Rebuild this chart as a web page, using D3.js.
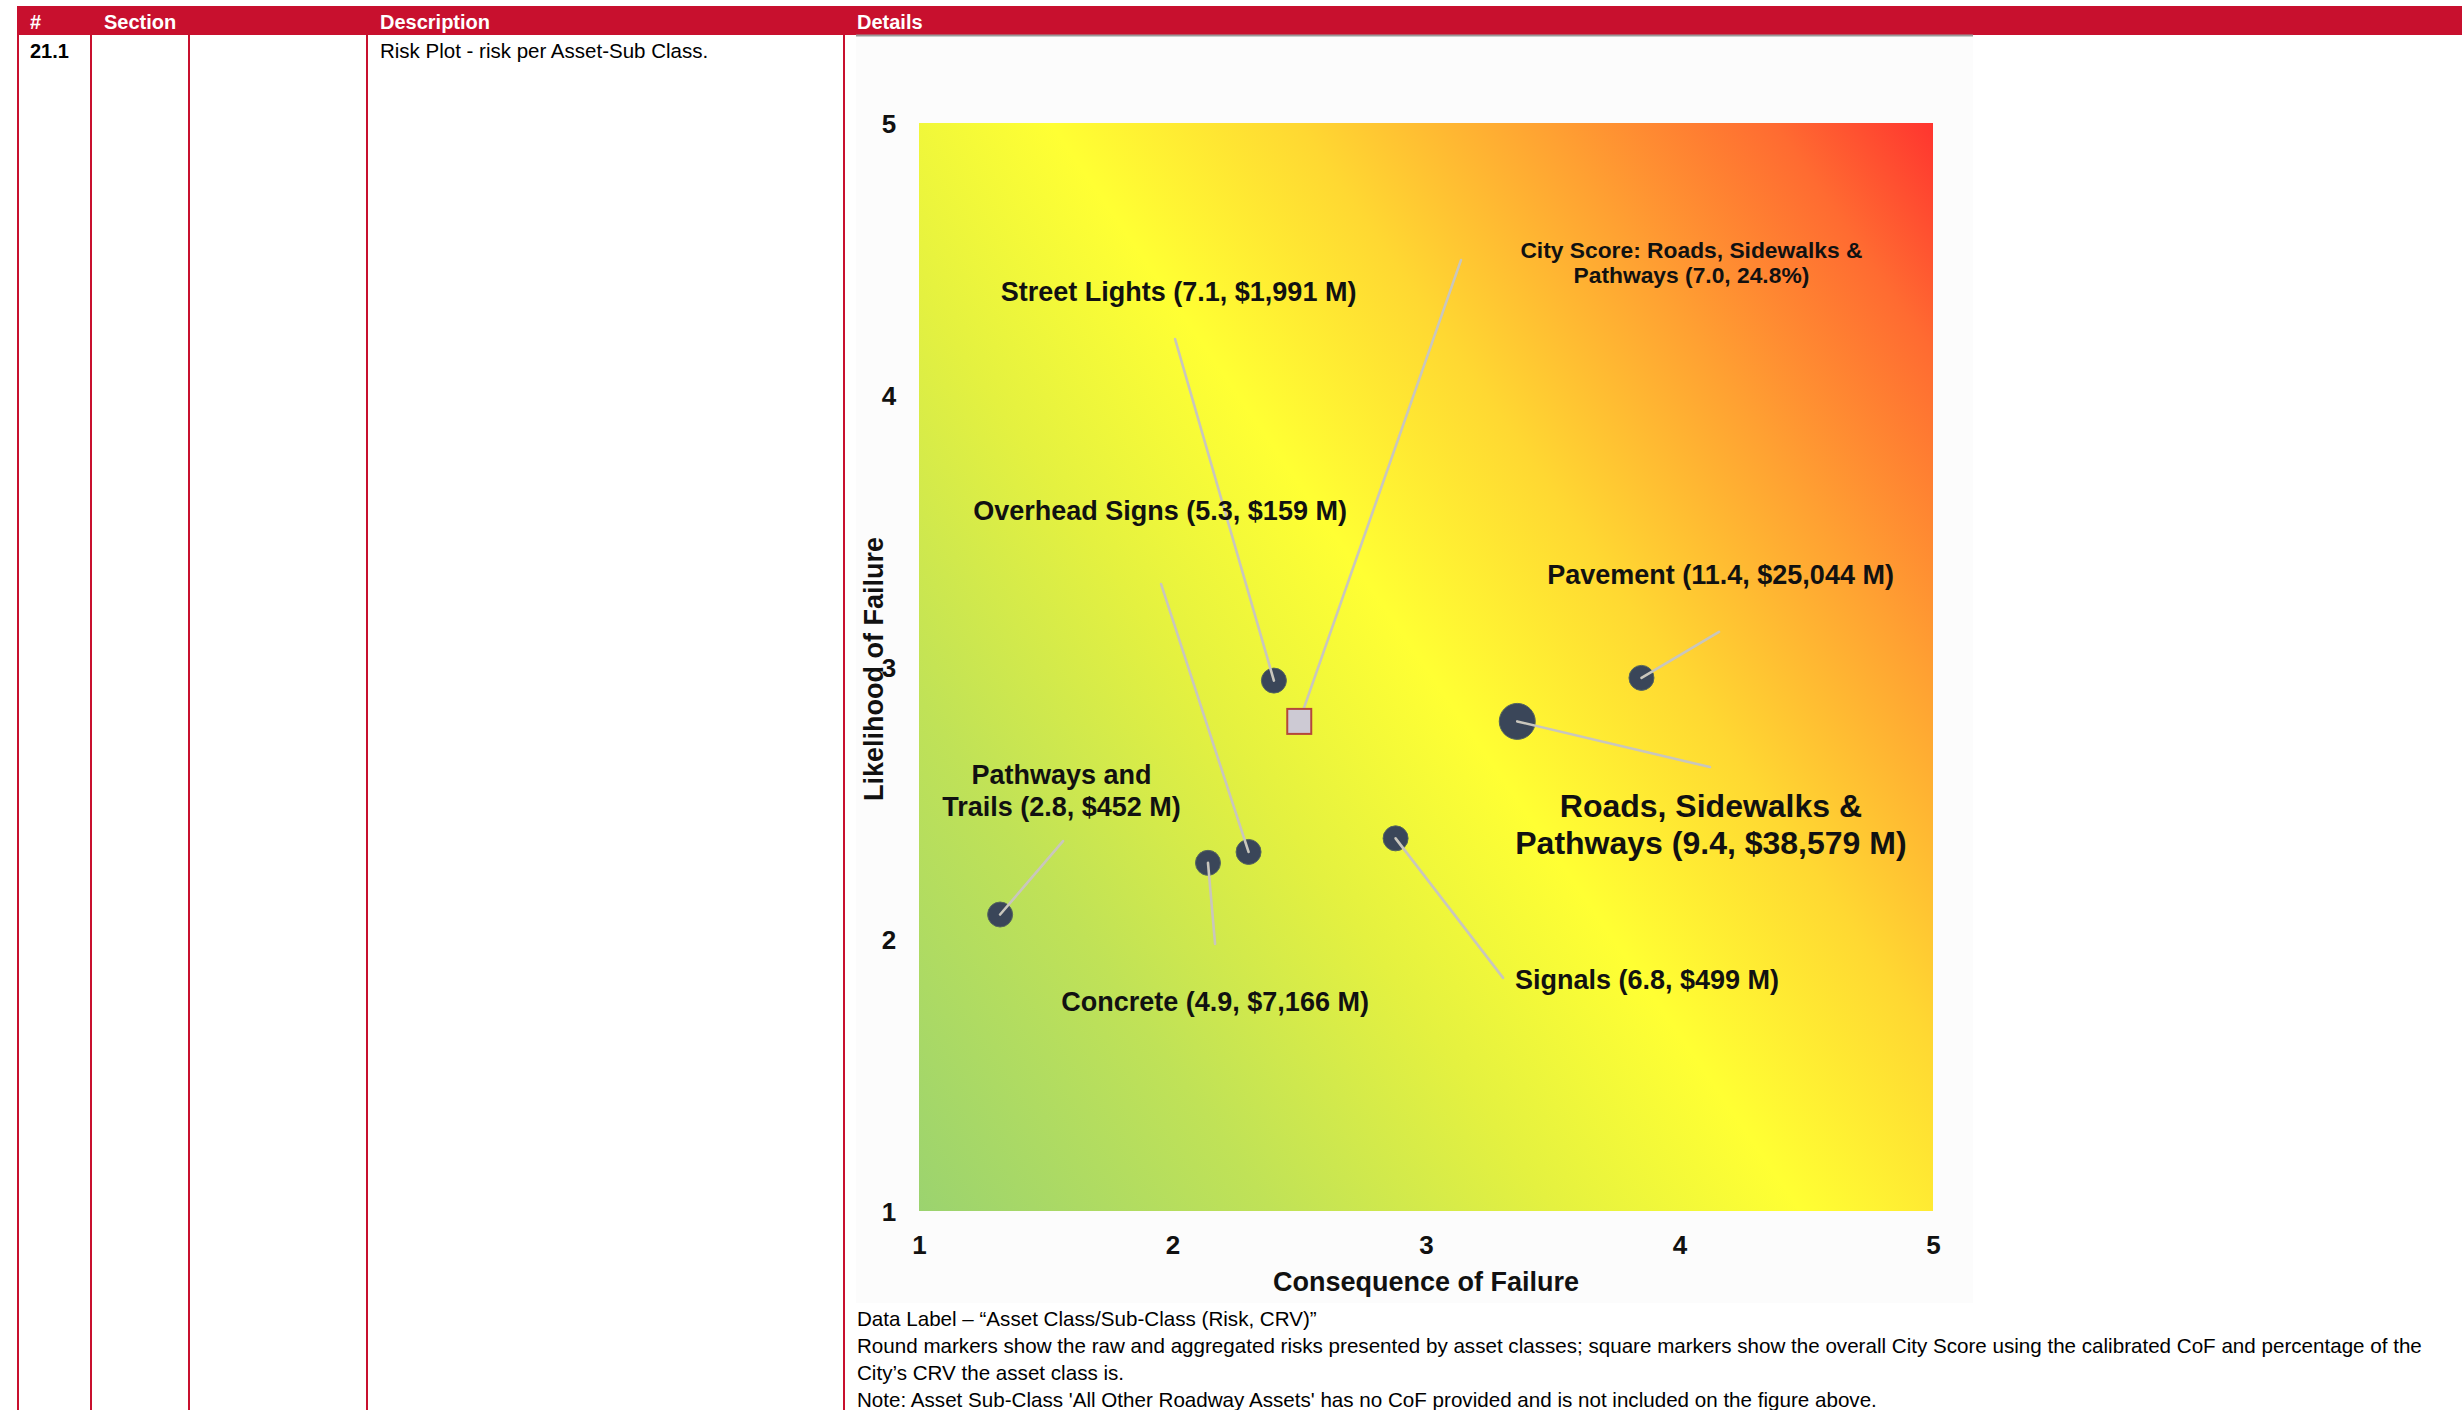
<!DOCTYPE html>
<html><head><meta charset="utf-8">
<script src="https://cdn.jsdelivr.net/npm/d3@7"></script>
<style>
html,body{margin:0;padding:0;background:#fff;}
svg{display:block;font-family:"Liberation Sans",Arial,Helvetica,sans-serif;}
</style></head><body>
<svg id="page" width="2462" height="1410"></svg>
<script>
// ---- risk data per asset sub-class ----
const assets      = ["Street Lights", "Overhead Signs", "Pavement", "Pathways and Trails",
                     "Roads, Sidewalks & Pathways", "Signals", "Concrete"];
const consequence = [2.40, 2.30, 3.85, 1.32, 3.36, 2.88, 2.14];   // CoF
const likelihood  = [2.95, 2.32, 2.96, 2.09, 2.80, 2.37, 2.28];   // LoF
const risk        = [7.1, 5.3, 11.4, 2.8, 9.4, 6.8, 4.9];
const crv         = ["$1,991 M", "$159 M", "$25,044 M", "$452 M", "$38,579 M", "$499 M", "$7,166 M"];
const markerKind  = ["sub", "sub", "sub", "sub", "class", "sub", "sub"];

// overall city score (square marker)
const cityName  = "City Score: Roads, Sidewalks & Pathways";
const cityCoF   = 2.50;
const cityLoF   = 2.80;
const cityRisk  = 7.0;
const cityShare = "24.8%";

const axisTicks = [1, 2, 3, 4, 5];

// table content
const headers   = ["#", "Section", "Description", "Details"];
const rowId     = "21.1";
const rowDesc   = "Risk Plot - risk per Asset-Sub Class.";
const notes = [
  "Data Label \u2013 \u201cAsset Class/Sub-Class (Risk, CRV)\u201d",
  "Round markers show the raw and aggregated risks presented by asset classes; square markers show the overall City Score using the calibrated CoF and percentage of the",
  "City\u2019s CRV the asset class is.",
  "Note: Asset Sub-Class 'All Other Roadway Assets' has no CoF provided and is not included on the figure above."
];

// ---- page / table frame ----
const RED = "#c8102e";
const svg = d3.select("#page");
const colX = [18, 91, 189, 367, 844];
const headerX = [30, 104, 380, 857];

svg.append("rect").attr("x", 17).attr("y", 6).attr("width", 2462 - 17).attr("height", 29).attr("fill", RED);
svg.selectAll("line.col").data(colX).join("line")
  .attr("class", "col")
  .attr("x1", d => d).attr("x2", d => d)
  .attr("y1", 35).attr("y2", 1410)
  .attr("stroke", RED).attr("stroke-width", 2);
svg.selectAll("text.hdr").data(headers).join("text")
  .attr("class", "hdr")
  .attr("x", (d, i) => headerX[i]).attr("y", 28.5)
  .attr("fill", "#fff").attr("font-weight", "bold").attr("font-size", 20)
  .text(d => d);
svg.append("text").attr("x", 30).attr("y", 58).attr("font-weight", "bold").attr("font-size", 20).text(rowId);
svg.append("text").attr("x", 380).attr("y", 58).attr("font-size", 20.5).text(rowDesc);

// figure panel
svg.append("rect").attr("x", 856).attr("y", 35).attr("width", 1117).attr("height", 1268).attr("fill", "#fcfcfc");
svg.append("line").attr("x1", 856).attr("x2", 1973).attr("y1", 35.5).attr("y2", 35.5)
  .attr("stroke", "#9a9a9a").attr("stroke-width", 2);

svg.selectAll("text.note").data(notes).join("text")
  .attr("class", "note")
  .attr("x", 857).attr("y", (d, i) => 1326 + i * 27)
  .attr("font-size", 20.6).attr("fill", "#000")
  .text(d => d);

// ---- risk matrix ----
const plot = { left: 919, right: 1933, top: 123, bottom: 1211 };
const x = d3.scaleLinear().domain([1, 5]).range([plot.left, plot.right]);
const y = d3.scaleLinear().domain([1, 5]).range([plot.bottom, plot.top]);

// background: green (low risk, bottom-left) through yellow to red (high risk, top-right)
const defs = svg.append("defs");
const grad = defs.append("linearGradient").attr("id", "riskGrad")
  .attr("x1", 0).attr("y1", 1).attr("x2", 1.124).attr("y2", 0.168);
[[0.00, "#9bd36f"], [0.20, "#c0e257"], [0.36, "#e4f140"], [0.50, "#ffff33"],
 [0.64, "#ffd832"], [0.78, "#ffa132"], [0.91, "#ff6b31"], [1.00, "#ff352f"]]
  .forEach(([o, c]) => grad.append("stop").attr("offset", o).attr("stop-color", c));

svg.append("rect")
  .attr("x", x(1)).attr("y", y(5))
  .attr("width", x(5) - x(1)).attr("height", y(1) - y(5))
  .attr("fill", "url(#riskGrad)");

const chart = svg.append("g").attr("fill", "#111");

// axis title (left)
chart.append("text")
  .attr("transform", `translate(883,${(y(1) + y(5)) / 2 + 2}) rotate(-90)`)
  .attr("text-anchor", "middle").attr("font-weight", "bold").attr("font-size", 27)
  .text("Likelihood of Failure");
// axis title (bottom)
chart.append("text")
  .attr("x", (x(1) + x(5)) / 2).attr("y", 1291)
  .attr("text-anchor", "middle").attr("font-weight", "bold").attr("font-size", 27)
  .text("Consequence of Failure");

// axes: labels only
const yAxis = chart.append("g").attr("transform", `translate(${x(1)},0)`)
  .call(d3.axisLeft(y).tickValues(axisTicks).tickSize(0).tickFormat(d3.format("d")));
const xAxis = chart.append("g").attr("transform", `translate(0,${y(1)})`)
  .call(d3.axisBottom(x).tickValues(axisTicks).tickSize(0).tickFormat(d3.format("d")));
[yAxis, xAxis].forEach(g => {
  g.select(".domain").remove();
  g.selectAll("text").attr("fill", "#111").attr("font-weight", "bold")
    .attr("font-size", 26).attr("font-family", "'Liberation Sans', Arial, sans-serif");
});
yAxis.selectAll("text").attr("text-anchor", "middle").attr("x", -30).attr("dy", "0.36em");
xAxis.selectAll("text").attr("y", 43).attr("dy", 0);

// label placement (data units) and leader-line anchors
const labelLayout = [
  { lx: 2.024, ly: 4.346, ex: 2.010, ey: 4.206, anchor: "middle", size: 27, split: 0 },
  { lx: 1.951, ly: 3.540, ex: 1.955, ey: 3.305, anchor: "middle", size: 27, split: 0 },
  { lx: 4.162, ly: 3.305, ex: 4.156, ey: 3.129, anchor: "middle", size: 27, split: 0 },
  { lx: 1.562, ly: 2.570, ex: 1.568, ey: 2.360, anchor: "middle", size: 27, split: 2 },
  { lx: 4.124, ly: 2.449, ex: 4.120, ey: 2.632, anchor: "middle", size: 32, split: 3 },
  { lx: 3.351, ly: 1.816, ex: 3.304, ey: 1.857, anchor: "start",  size: 27, split: 0 },
  { lx: 2.168, ly: 1.735, ex: 2.168, ey: 1.982, anchor: "middle", size: 27, split: 0 }
];
const cityLayout = { lx: 4.047, ly: 4.505, ex: 3.138, ey: 4.496, anchor: "middle", size: 22.8, split: 5, lineGap: 25 };

const points = assets.map((name, i) => ({
  name, cof: consequence[i], lof: likelihood[i], risk: risk[i], crv: crv[i],
  kind: markerKind[i], layout: labelLayout[i],
  label: `${name} (${risk[i].toFixed(1)}, ${crv[i]})`
}));

// markers
chart.append("g").selectAll("circle").data(points).join("circle")
  .attr("cx", d => x(d.cof)).attr("cy", d => y(d.lof))
  .attr("r", d => d.kind === "class" ? 18 : 12.5)
  .attr("fill", "#3a4659").attr("stroke", "#56665e").attr("stroke-width", 1);

// leader lines
const LEAD = "#c9c6bd";
chart.append("g").selectAll("line").data(points).join("line")
  .attr("x1", d => x(d.layout.ex)).attr("y1", d => y(d.layout.ey))
  .attr("x2", d => x(d.cof)).attr("y2", d => y(d.lof))
  .attr("stroke", LEAD).attr("stroke-width", 2.6).attr("stroke-linecap", "round");
chart.append("line")
  .attr("x1", x(cityLayout.ex)).attr("y1", y(cityLayout.ey))
  .attr("x2", x(cityCoF)).attr("y2", y(cityLoF))
  .attr("stroke", LEAD).attr("stroke-width", 2.6).attr("stroke-linecap", "round");

// city score square
chart.append("rect")
  .attr("x", x(cityCoF) - 12).attr("y", y(cityLoF) - 12.5)
  .attr("width", 24).attr("height", 25)
  .attr("fill", "#cdcad4").attr("stroke", "#b4473a").attr("stroke-width", 2);

// labels
function drawLabel(text, lay, gap) {
  const words = text.split(" ");
  const lines = lay.split ? [words.slice(0, lay.split).join(" "), words.slice(lay.split).join(" ")] : [text];
  const t = chart.append("text")
    .attr("x", x(lay.lx)).attr("y", y(lay.ly))
    .attr("text-anchor", lay.anchor).attr("font-weight", "bold").attr("font-size", lay.size)
    .attr("fill", "#111");
  lines.forEach((ln, k) => {
    t.append("tspan").attr("x", x(lay.lx)).attr("dy", k === 0 ? 0 : gap).text(ln);
  });
}
points.forEach(d => drawLabel(d.label, d.layout, d.layout.size === 32 ? 37 : 32));
drawLabel(`${cityName} (${cityRisk.toFixed(1)}, ${cityShare})`, cityLayout, cityLayout.lineGap);
</script>
</body></html>
